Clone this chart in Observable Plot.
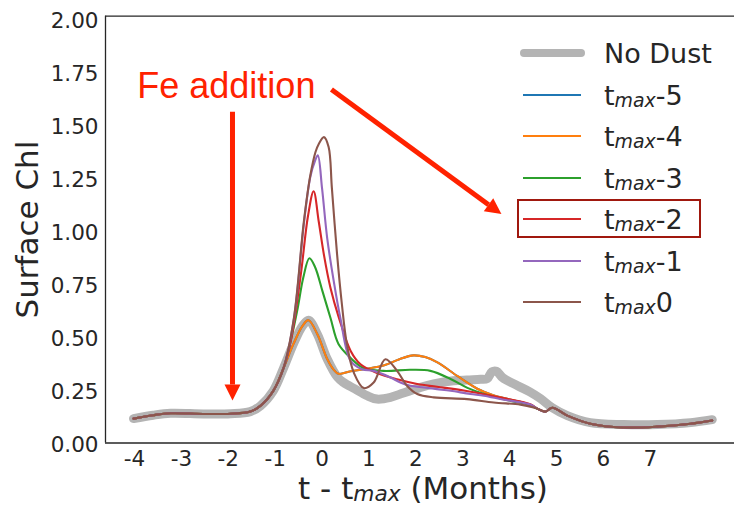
<!DOCTYPE html>
<html><head><meta charset="utf-8">
<script src="https://cdn.jsdelivr.net/npm/d3@7"></script>
<script src="https://cdn.jsdelivr.net/npm/@observablehq/plot@0.6"></script>
<style>
body{margin:0;background:#fff;}
#wrap{position:relative;width:734px;height:506px;font-family:"DejaVu Sans";color:#262626;overflow:hidden;}
#wrap svg{position:absolute;left:0;top:0;}
.leg{position:absolute;left:604px;font-size:27px;line-height:27px;white-space:nowrap;}
.sw{position:absolute;}
.sub{font-size:0.7em;font-style:italic;position:relative;top:0.12em;}
#xt{position:absolute;font-size:31px;line-height:31px;white-space:nowrap;transform:translateX(-50%);}
#box{position:absolute;box-sizing:border-box;border:2.7px solid #a0180e;}
</style></head><body><div id="wrap"></div>
<script>
// ---- axes ----
const xDomain = [-4.618, 8.795];
const yDomain = [0, 2.012];
const xTicks = [-4, -3, -2, -1, 0, 1, 2, 3, 4, 5, 6, 7];
const yTicks = [0, 0.25, 0.5, 0.75, 1, 1.25, 1.5, 1.75, 2];

// ---- shared parts of the curves ----
const xLeft = [-4.02, -3.6, -3.23, -2.53, -1.95, -1.53, -1.31, -1.04, -0.82];
const yLeft = [0.115, 0.131, 0.140, 0.137, 0.138, 0.148, 0.176, 0.246, 0.354];
const xRight = [4.59, 4.76, 4.91, 5.23, 5.72, 6.43, 7.15, 7.86, 8.32];
const yRight = [0.162, 0.148, 0.166, 0.129, 0.091, 0.073, 0.077, 0.091, 0.106];

// ---- No Dust ----
const xNoDust = [-0.61, -0.42, -0.29, -0.10, 0.11, 0.33, 0.46, 0.70, 0.96, 1.17, 1.46, 1.67, 2.10, 2.38, 2.80, 3.09, 3.38, 3.52, 3.62, 3.72, 3.85, 4.17, 4.44, 4.66, 4.91, 5.23, 5.72, 6.43, 7.15, 7.86, 8.32];
const yNoDust = [0.467, 0.551, 0.579, 0.513, 0.396, 0.310, 0.285, 0.255, 0.223, 0.207, 0.215, 0.231, 0.262, 0.278, 0.293, 0.297, 0.300, 0.303, 0.335, 0.338, 0.308, 0.270, 0.240, 0.209, 0.166, 0.129, 0.096, 0.087, 0.087, 0.096, 0.110];

// ---- Fe addition runs (middle part) ----
const xT5 = [-0.61, -0.42, -0.29, -0.10, 0.11, 0.25, 0.35, 0.61, 0.95, 1.31, 1.65, 1.95, 2.20, 2.46, 2.89, 3.31, 3.65, 4.00, 4.30];
const yT5 = [0.467, 0.551, 0.579, 0.513, 0.396, 0.345, 0.326, 0.338, 0.350, 0.365, 0.395, 0.413, 0.405, 0.380, 0.315, 0.256, 0.225, 0.205, 0.190];
const xT4 = [-0.61, -0.42, -0.29, -0.10, 0.11, 0.25, 0.35, 0.61, 0.95, 1.31, 1.65, 1.95, 2.20, 2.46, 2.89, 3.31, 3.65, 4.00, 4.30];
const yT4 = [0.467, 0.551, 0.579, 0.513, 0.396, 0.345, 0.326, 0.338, 0.350, 0.365, 0.395, 0.413, 0.405, 0.380, 0.315, 0.256, 0.225, 0.205, 0.190];
const xT3 = [-0.65, -0.52, -0.40, -0.27, -0.15, 0.01, 0.18, 0.35, 0.61, 0.88, 1.31, 1.88, 2.31, 2.74, 3.10, 3.44, 3.80, 4.10, 4.44];
const yT3 = [0.500, 0.635, 0.780, 0.871, 0.830, 0.715, 0.589, 0.467, 0.401, 0.354, 0.340, 0.345, 0.340, 0.302, 0.260, 0.232, 0.210, 0.195, 0.180];
const xT2 = [-0.65, -0.45, -0.30, -0.18, -0.07, 0.04, 0.18, 0.36, 0.61, 0.82, 1.17, 1.60, 2.03, 2.45, 3.05, 3.77, 4.44];
const yT2 = [0.500, 0.800, 1.070, 1.187, 1.043, 0.887, 0.731, 0.590, 0.434, 0.371, 0.330, 0.300, 0.278, 0.265, 0.246, 0.215, 0.183];
const xT1 = [-0.60, -0.39, -0.25, -0.15, -0.09, 0.00, 0.11, 0.25, 0.39, 0.61, 0.85, 1.10, 1.46, 1.67, 1.88, 2.17, 2.45, 2.74, 3.16, 3.45, 3.85, 4.44];
const yT1 = [0.585, 1.030, 1.255, 1.330, 1.356, 1.200, 0.965, 0.762, 0.590, 0.387, 0.348, 0.340, 0.309, 0.285, 0.270, 0.262, 0.254, 0.246, 0.231, 0.223, 0.205, 0.181];
const xT0 = [-0.60, -0.39, -0.25, -0.14, -0.07, 0.04, 0.14, 0.21, 0.32, 0.42, 0.53, 0.68, 0.89, 1.10, 1.35, 1.60, 1.81, 2.03, 2.38, 3.09, 3.66, 4.23, 4.51];
const yT0 = [0.590, 1.040, 1.262, 1.372, 1.410, 1.442, 1.395, 1.200, 0.890, 0.660, 0.465, 0.330, 0.259, 0.285, 0.395, 0.340, 0.270, 0.231, 0.215, 0.207, 0.191, 0.181, 0.168];

const noDustName = "No Dust";
const runSuffix = ["-5", "-4", "-3", "-2", "-1", "0"];
const runColors = ["#1f77b4", "#ff7f0e", "#2ca02c", "#d62728", "#9467bd", "#8c564b"];
const noDustColor = "#b4b4b4";

// ---- annotations ----
const annoColor = "#ff2200";
const feLabel = [{x: -3.94, y: 1.680, text: "Fe addition"}];
const arrowShafts = [
  {x1: -1.91, y1: 1.562, x2: -1.91, y2: 0.276},
  {x1: 0.20, y1: 1.666, x2: 3.551, y2: 1.123}
];
const arrowTips = [{x: -1.91, y: 0.200, angle: 90}, {x: 3.825, y: 1.079, angle: 36.1}];

// ---- build ----
function pts(xs, ys) { return xs.map((x, i) => ({x, y: ys[i]})); }
const noDust = pts(xLeft.concat(xNoDust), yLeft.concat(yNoDust));
const runs = [[xT5, yT5], [xT4, yT4], [xT3, yT3], [xT2, yT2], [xT1, yT1], [xT0, yT0]]
  .map(([xs, ys]) => pts(xLeft.concat(xs, xRight), yLeft.concat(ys, yRight)));

function headSymbol(deg, len, half) {
  const a = deg * Math.PI / 180, ux = Math.cos(a), uy = Math.sin(a);
  return {draw(ctx) {
    const bx = -len * ux, by = -len * uy;
    ctx.moveTo(0, 0);
    ctx.lineTo(bx - half * uy, by + half * ux);
    ctx.lineTo(bx + half * uy, by - half * ux);
    ctx.closePath();
  }};
}

const marks = [
  Plot.ruleY(yDomain, {stroke: "#262626", strokeWidth: 1.3}),
  Plot.ruleX([xDomain[0]], {stroke: "#262626", strokeWidth: 1.3}),
  Plot.axisY({ticks: yTicks, tickSize: 0, tickPadding: 7, tickFormat: d3.format(".2f"), label: null, dy: 2, fontSize: 21.5}),
  Plot.axisX({ticks: xTicks, tickSize: 0, tickPadding: 8, tickFormat: d => String(d), label: null, fontSize: 21.5}),
  Plot.line(noDust, {x: "x", y: "y", stroke: noDustColor, strokeWidth: 9, curve: "catmull-rom"}),
  ...runs.map((d, i) => Plot.line(d, {x: "x", y: "y", stroke: runColors[i], strokeWidth: 2.1, curve: "catmull-rom"})),
  Plot.text(["Surface Chl"], {frameAnchor: "left", textAnchor: "middle", rotate: -90, dx: -77, fontSize: 31, fill: "#262626"}),
  Plot.text(feLabel, {x: "x", y: "y", text: "text", textAnchor: "start", fill: annoColor, fontSize: 36, fontFamily: "Liberation Sans"}),
  Plot.link(arrowShafts, {x1: "x1", y1: "y1", x2: "x2", y2: "y2", stroke: annoColor, strokeWidth: 5}),
  ...arrowTips.map(t => Plot.dot([t], {x: "x", y: "y", symbol: headSymbol(t.angle, 16, 8), fill: annoColor, stroke: "none"}))
];

const chart = Plot.plot({
  width: 734, height: 506,
  marginLeft: 105, marginRight: 0, marginTop: 15.7, marginBottom: 63.5,
  x: {domain: xDomain},
  y: {domain: yDomain},
  style: {fontFamily: "DejaVu Sans", fontSize: "21.5px", color: "#262626", background: "#fff", overflow: "visible"},
  marks
});

const wrap = document.getElementById("wrap");
wrap.appendChild(chart);

// legend
const rowTop = 53.3, rowStep = 41.45;
function addRow(i, swatchHtml, labelHtml) {
  const c = rowTop + i * rowStep;
  wrap.insertAdjacentHTML("beforeend", swatchHtml(c));
  const el = document.createElement("div");
  el.className = "leg";
  el.style.top = (c - 13.05) + "px";
  el.innerHTML = labelHtml;
  wrap.appendChild(el);
}
addRow(0, c => `<div class="sw" style="left:520px;width:65px;height:8px;border-radius:4px;top:${c - 4}px;background:${noDustColor}"></div>`, noDustName);
runSuffix.forEach((s, i) => addRow(i + 1,
  c => `<div class="sw" style="left:523px;width:58px;height:2px;top:${c - 1}px;background:${runColors[i]}"></div>`,
  `t<span class="sub">max</span>${s}`));
const box = document.createElement("div");
box.id = "box";
Object.assign(box.style, {left: "516.7px", top: "199.3px", width: "184px", height: "39px"});
wrap.appendChild(box);

// x title
const xt = document.createElement("div");
xt.id = "xt";
xt.style.left = "423px";
xt.style.top = "472.8px";
xt.innerHTML = `t - t<span class="sub">max</span> (Months)`;
wrap.appendChild(xt);
</script></body></html>
